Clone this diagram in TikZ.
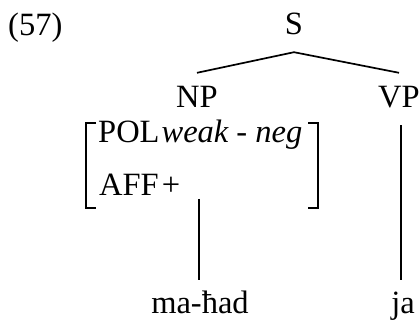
\documentclass[tikz,border=0pt]{standalone}
\usepackage{fontspec}
\setmainfont{Liberation Serif}
\begin{document}
\begin{tikzpicture}[x=1pt,y=-1pt,
  lbl/.style={font=\fontsize{32.5}{38}\selectfont, inner sep=0pt, anchor=base},
  cat/.style={lbl, text height=25pt, text depth=7pt, inner ysep=10pt},
  term/.style={lbl, text height=25pt, text depth=0pt, inner ysep=8pt},
  branch/.style={line width=1.7pt},
  brk/.style={line width=1.3pt}]
  \useasboundingbox (0,0) rectangle (420,320);

  % example number
  \node[lbl, anchor=base west] (num) at (8,36) {(57)};

  % tree categories
  \node[cat] (S)  at (294,35)  {S};
  \node[cat] (NP) at (197,108) {NP};
  \node[cat] (VP) at (399,108) {VP};

  % feature matrix under NP
  \node[lbl, anchor=base west] (pol) at (98,143) {POL\kern2pt\textit{weak - neg}};
  \node[lbl, anchor=base west] (aff) at (99,196) {AFF\kern3pt+};
  \draw[brk] (96,123) -- (86,123) -- (86,208) -- (96,208);
  \draw[brk] (308,123) -- (318,123) -- (318,208) -- (308,208);
  \coordinate (npfoot) at (199,199);

  % terminals
  \node[term] (mahad) at (200,313) {ma-ħad};
  \node[term] (ja)    at (403,313) {ja};

  % branches
  \draw[branch] (NP.north) -- (S.south) -- (VP.north);
  \draw[branch] (npfoot) -- (npfoot |- mahad.north);
  \draw[branch] ([xshift=2pt]VP.south) -- ([xshift=2pt]VP.south |- ja.north);
\end{tikzpicture}
\end{document}
